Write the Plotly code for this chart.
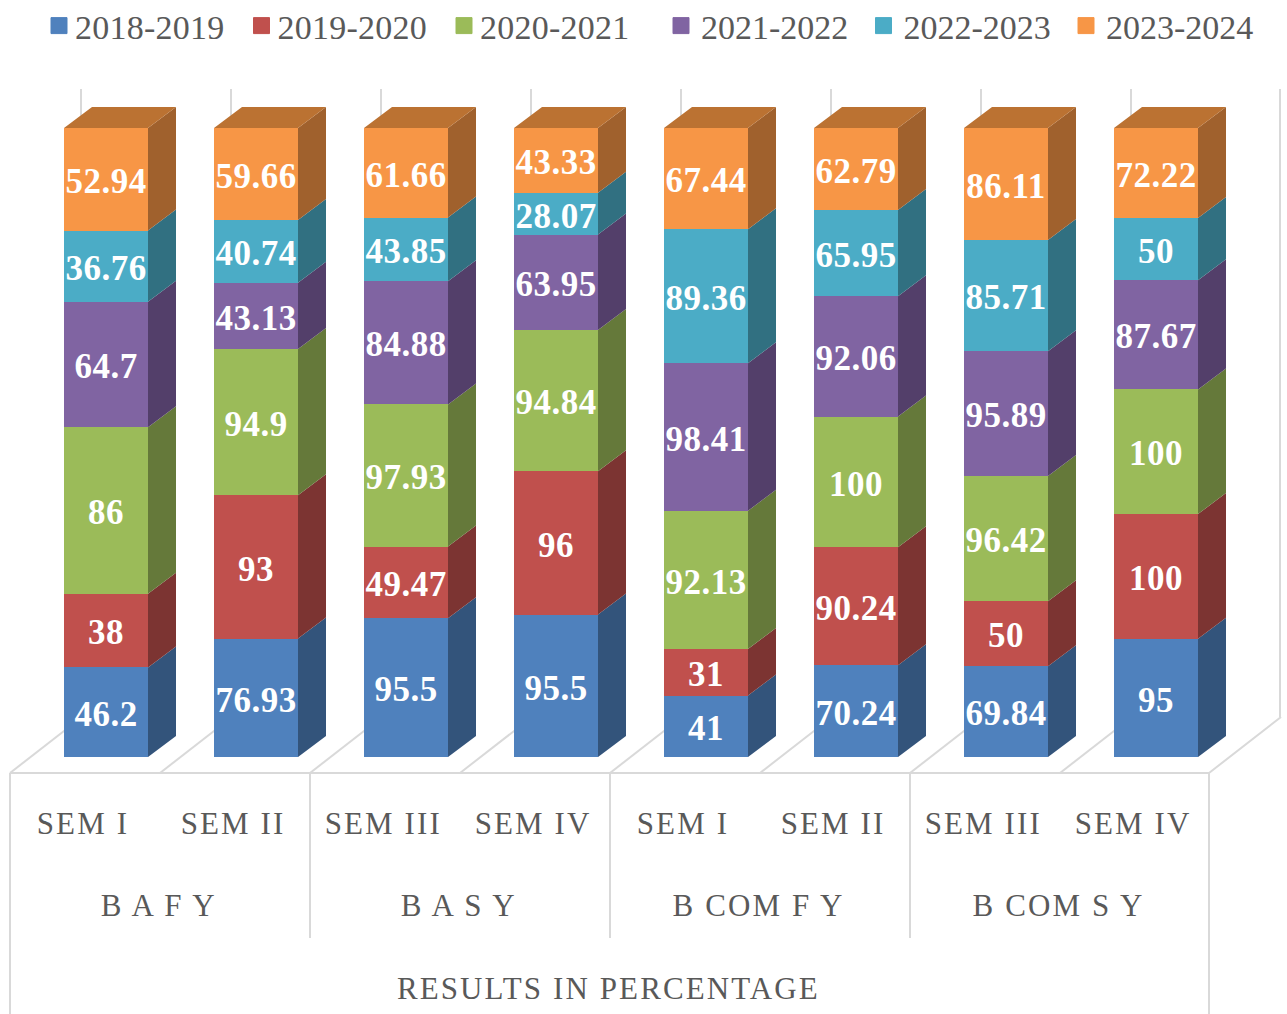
import plotly.graph_objects as go

semesters = ["SEM I", "SEM II", "SEM III", "SEM IV", "SEM I", "SEM II", "SEM III", "SEM IV"]
groups = ["B A F Y", "B A S Y", "B COM F Y", "B COM S Y"]
axis_title = "RESULTS IN PERCENTAGE"
years = ["2018-2019", "2019-2020", "2020-2021", "2021-2022", "2022-2023", "2023-2024"]

v_2018_19 = [46.2, 76.93, 95.5, 95.5, 41, 70.24, 69.84, 95]
v_2019_20 = [38, 93, 49.47, 96, 31, 90.24, 50, 100]
v_2020_21 = [86, 94.9, 97.93, 94.84, 92.13, 100, 96.42, 100]
v_2021_22 = [64.7, 43.13, 84.88, 63.95, 98.41, 92.06, 95.89, 87.67]
v_2022_23 = [36.76, 40.74, 43.85, 28.07, 89.36, 65.95, 85.71, 50]
v_2023_24 = [52.94, 59.66, 61.66, 43.33, 67.44, 62.79, 86.11, 72.22]
series = [v_2018_19, v_2019_20, v_2020_21, v_2021_22, v_2022_23, v_2023_24]

front = ["#4f81bd", "#c0504d", "#9bbb59", "#8064a2", "#4bacc6", "#f79646"]
side = ["#33547b", "#7c3432", "#65793a", "#533f6a", "#317081", "#a0612d"]
top_face = "#bb7232"
GRID = "#d9d9d9"
TEXT = "#595959"
SERIF = "Liberation Serif"

W, H = 1287, 1014
X0, PX_X = 106, 150        # pixel of first bar centre, pixels per category
Y0, PX_Y = 757, 6.29       # pixel of 0 %, pixels per percent
BAR = 0.56
DX, DY = 28 / PX_X, 21 / PX_Y


def fx(px):
    return (px - X0) / PX_X


def fy(py):
    return (Y0 - py) / PX_Y


fig = go.Figure()
n = len(semesters)
xs = list(range(n))
totals = [sum(s[i] for s in series) for i in xs]

# front faces: native percent-normalised stacked bars
for name, vals, col in zip(years, series, front):
    fig.add_trace(go.Bar(
        x=xs, y=vals, name=name, marker=dict(color=col, line=dict(width=0)),
        width=BAR, text=[f"{v:g}" for v in vals], textposition="inside",
        insidetextanchor="middle", textangle=0, constraintext="none",
        textfont=dict(family=SERIF, size=35, color="white", weight="bold"),
        showlegend=False, hoverinfo="x+y+name", cliponaxis=False,
    ))

# side faces, computed from the same stacked values
cum = [0.0] * n
for vals, col in zip(series, side):
    px_, py_ = [], []
    for i in xs:
        lo = cum[i]
        hi = lo + vals[i] / totals[i] * 100
        r = i + BAR / 2
        px_ += [r, r + DX, r + DX, r, r, None]
        py_ += [lo, lo + DY, hi + DY, hi, lo, None]
        cum[i] = hi
    fig.add_trace(go.Scatter(x=px_, y=py_, mode="lines", fill="toself", fillcolor=col,
                             line=dict(width=0, color=col), showlegend=False, hoverinfo="skip"))

# top faces
tx, ty = [], []
for i in xs:
    l, r = i - BAR / 2, i + BAR / 2
    tx += [l, l + DX, r + DX, r, l, None]
    ty += [100, 100 + DY, 100 + DY, 100, 100, None]
fig.add_trace(go.Scatter(x=tx, y=ty, mode="lines", fill="toself", fillcolor=top_face,
                         line=dict(width=0, color=top_face), showlegend=False, hoverinfo="skip"))

# legend entries (two legends because the original has a wider gap in the middle)
for k, (name, col) in enumerate(zip(years, front)):
    fig.add_trace(go.Scatter(
        x=[None], y=[None], mode="markers", name=name,
        marker=dict(symbol="square", size=16, color=col, line=dict(width=1, color=col)),
        legend="legend" if k < 3 else "legend2", showlegend=True,
    ))

# frame: floor, back wall, category table
shapes = []


def line(x0, y0, x1, y1):
    shapes.append(dict(type="line", xref="x", yref="y", x0=fx(x0), y0=fy(y0), x1=fx(x1), y1=fy(y1),
                       line=dict(color=GRID, width=2), layer="below"))


line(10, 773, 1209, 773)
for k in range(9):
    px0 = 10 + 150 * k - (1 if k == 8 else 0)
    line(px0, 773, px0 + 72, 717)
    line(px0 + 72 - 1, 717 if k == 8 else 725, px0 + 72 - 1, 89)
for px0 in (310, 610, 910):
    line(px0, 773, px0, 938)
for px0 in (10, 1209):
    line(px0, 773, px0, 1014)


def label(text, px, py):
    return dict(text=text, x=fx(px), y=fy(py), xref="x", yref="y", showarrow=False,
                xanchor="center", yanchor="middle",
                font=dict(family=SERIF, size=31, color=TEXT))


annotations = [label(s, 83 + 150 * i, 823) for i, s in enumerate(semesters)]
annotations += [label(g, 158.5 + 300 * i, 905) for i, g in enumerate(groups)]
annotations.append(label(axis_title, 608, 988))

legend_common = dict(orientation="h", xanchor="left", yanchor="top", y=1,
                     entrywidthmode="pixels", entrywidth=157.5, itemsizing="trace",
                     traceorder="normal",
                     font=dict(family=SERIF, size=34, color=TEXT),
                     bgcolor="rgba(0,0,0,0)", borderwidth=0, tracegroupgap=0,
                     itemclick=False, itemdoubleclick=False)

fig.update_layout(
    width=W, height=H, margin=dict(l=0, r=0, t=0, b=0),
    paper_bgcolor="white", plot_bgcolor="white",
    barmode="stack", barnorm="percent", bargap=0,
    xaxis=dict(visible=False, range=[fx(0), fx(W)], fixedrange=True),
    yaxis=dict(visible=False, range=[fy(H), fy(0)], fixedrange=True),
    shapes=shapes, annotations=annotations,
    legend=dict(x=39 / W, **legend_common),
    legend2=dict(x=661 / W, **legend_common),
    showlegend=True,
)

fig.write_html(
    "out.html",
    config=dict(displayModeBar=False),
    post_script=(
        "document.body.style.margin='0';"
        "document.querySelectorAll('.annotation-text').forEach(function(t){t.style.letterSpacing='2.1px';});"
        "document.querySelectorAll('.legendtext').forEach(function(t){t.setAttribute('x','36');t.style.letterSpacing='0.25px';});"
        "document.querySelectorAll('.legend2 .legendtext').forEach(function(t){t.setAttribute('x','34');});"
        "document.querySelectorAll('.infolayer .legend, .infolayer .legend2').forEach(function(g){"
        "g.setAttribute('transform',(g.getAttribute('transform')||'')+' translate(0,-3)');});"
        "document.querySelectorAll('.barlayer .bartext').forEach(function(t){"
        "t.setAttribute('transform',(t.getAttribute('transform')||'')+' translate(0,2)');"
        "t.style.letterSpacing='0.5px';});"
    ),
)
